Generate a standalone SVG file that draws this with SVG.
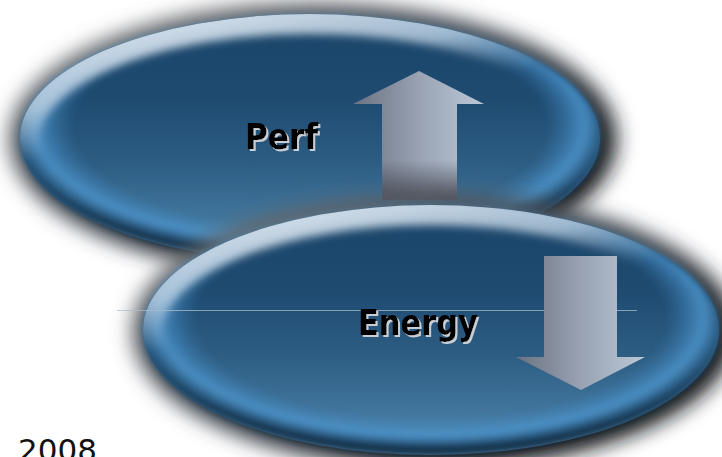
<svg xmlns="http://www.w3.org/2000/svg" width="722" height="457" viewBox="0 0 722 457">
  <defs>
    <style>
      .label { font-family: "DejaVu Sans", "Liberation Sans", sans-serif; font-weight: bold; font-size: 36px; fill: #000000; filter: url(#labelShade); }
      .year { font-family: "DejaVu Sans", "Liberation Sans", sans-serif; font-size: 31px; fill: #111111; }
      .halo { fill: url(#haloGrad); filter: url(#haloBlur); }
      .body { fill: url(#bodyGrad); }
      .rim { fill: url(#rimGrad); filter: url(#rimBlur); }
      .gleam { fill: none; stroke: url(#gleamGrad); stroke-width: 28; filter: url(#gleamBlur); }
      .arrow { fill: url(#arrowGrad); }
    </style>

    <filter id="haloBlur" x="-20%" y="-40%" width="140%" height="180%">
      <feGaussianBlur stdDeviation="10"/>
    </filter>
    <filter id="rimBlur" x="-5%" y="-10%" width="110%" height="120%">
      <feGaussianBlur stdDeviation="3"/>
    </filter>
    <filter id="gleamBlur" x="-10%" y="-20%" width="120%" height="140%">
      <feGaussianBlur stdDeviation="4"/>
    </filter>
    <!-- pale offset copy under the lettering -->
    <filter id="labelShade" x="-10%" y="-20%" width="130%" height="150%">
      <feOffset in="SourceAlpha" dx="2" dy="2" result="off"/>
      <feFlood flood-color="#c9ced4"/>
      <feComposite in2="off" operator="in" result="shade"/>
      <feMerge>
        <feMergeNode in="shade"/>
        <feMergeNode in="SourceGraphic"/>
      </feMerge>
    </filter>

    <!-- soft drop shade around each disc: grey at upper left, near black at lower right -->
    <linearGradient id="haloGrad" x1="0" y1="0" x2="1" y2="1">
      <stop offset="0" stop-color="#7a7a7a"/>
      <stop offset="0.45" stop-color="#3c444e"/>
      <stop offset="1" stop-color="#000000"/>
    </linearGradient>

    <!-- disc face: dark navy above, lighter steel blue below -->
    <linearGradient id="bodyGrad" x1="0" y1="0" x2="0" y2="1">
      <stop offset="0" stop-color="#1a4468"/>
      <stop offset="0.35" stop-color="#1f4b71"/>
      <stop offset="0.6" stop-color="#2d5d83"/>
      <stop offset="0.82" stop-color="#41759c"/>
      <stop offset="1" stop-color="#5893bf"/>
    </linearGradient>

    <!-- bevel: bright blue band then dark outer lip, heavier toward the bottom -->
    <radialGradient id="rimGrad" cx="0.5" cy="0.45" r="0.55">
      <stop offset="0" stop-color="#3a80b8" stop-opacity="0"/>
      <stop offset="0.74" stop-color="#3a80b8" stop-opacity="0"/>
      <stop offset="0.86" stop-color="#4d95cc" stop-opacity="0.85"/>
      <stop offset="0.935" stop-color="#1c4262" stop-opacity="1"/>
      <stop offset="1" stop-color="#08141e" stop-opacity="1"/>
    </radialGradient>

    <!-- pale light on the upper-left bevel -->
    <linearGradient id="gleamGrad" x1="0" y1="0.1" x2="0.35" y2="0.9">
      <stop offset="0" stop-color="#dfe8f1" stop-opacity="0.95"/>
      <stop offset="0.3" stop-color="#bcd0e2" stop-opacity="0.8"/>
      <stop offset="0.52" stop-color="#9fbbd4" stop-opacity="0"/>
    </linearGradient>

    <!-- metallic arrow face -->
    <linearGradient id="arrowGrad" x1="0" y1="0" x2="1" y2="0">
      <stop offset="0" stop-color="#6c7282"/>
      <stop offset="0.5" stop-color="#98a2b2"/>
      <stop offset="1" stop-color="#bcc8d8"/>
    </linearGradient>
    <linearGradient id="arrowFoot" x1="0" y1="0" x2="0" y2="1">
      <stop offset="0" stop-color="#3a3c48" stop-opacity="0"/>
      <stop offset="1" stop-color="#3a3c48" stop-opacity="0.8"/>
    </linearGradient>

    <clipPath id="clipPerf"><ellipse cx="310" cy="138" rx="290" ry="124"/></clipPath>
    <clipPath id="clipEnergy"><ellipse cx="431" cy="330" rx="288" ry="125"/></clipPath>
  </defs>

  <rect width="722" height="457" fill="#ffffff"/>

  <!-- upper disc -->
  <g id="perf-disc">
    <ellipse class="halo" cx="313" cy="139" rx="304" ry="136"/>
    <ellipse class="body" cx="310" cy="138" rx="290" ry="124"/>
    <ellipse class="rim" cx="310" cy="138" rx="290" ry="124"/>
    <g clip-path="url(#clipPerf)">
      <ellipse class="gleam" cx="310" cy="138" rx="284" ry="118"/>
    </g>
  </g>

  <!-- rising arrow on the upper disc -->
  <g id="perf-arrow">
    <polygon class="arrow" points="419,71 484,104 457,104 457,200 382,200 382,104 353,104"/>
    <rect x="382" y="160" width="75" height="40" fill="url(#arrowFoot)"/>
  </g>

  <text id="perf-label" class="label" x="245" y="149" textLength="73" lengthAdjust="spacingAndGlyphs">Perf</text>

  <!-- lower disc -->
  <g id="energy-disc">
    <ellipse class="halo" cx="434" cy="331" rx="302" ry="137"/>
    <ellipse class="body" cx="431" cy="330" rx="288" ry="125"/>
    <ellipse class="rim" cx="431" cy="330" rx="288" ry="125"/>
    <g clip-path="url(#clipEnergy)">
      <ellipse class="gleam" cx="431" cy="330" rx="282" ry="119"/>
    </g>
    <line x1="117" y1="310.5" x2="637" y2="310.5" stroke="#a9bccc" stroke-width="1" stroke-opacity="0.75"/>
  </g>

  <!-- falling arrow on the lower disc -->
  <g id="energy-arrow">
    <polygon class="arrow" points="544,256 617,256 617,357 645,357 581,390 516,357 544,357"/>
  </g>

  <text id="energy-label" class="label" x="358" y="335" textLength="120" lengthAdjust="spacingAndGlyphs">Energy</text>

  <text class="year" x="18" y="461">2008</text>
</svg>
